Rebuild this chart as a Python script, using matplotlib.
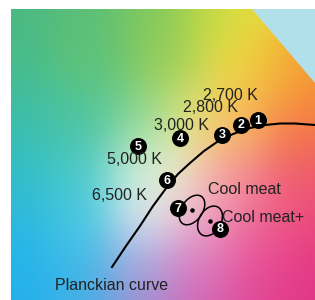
import numpy as np
import matplotlib
matplotlib.use("Agg")
import matplotlib.pyplot as plt
from matplotlib.patches import Ellipse

plt.rcParams["font.family"] = ["Liberation Sans", "DejaVu Sans"]

# background colour anchors (x, y in pixel space of the picture, rgb 0-255)
bg_x = [11, 80, 150, 210, 250,
        11, 90, 170, 230, 270, 310,
        11, 80, 140, 195, 240, 300,
        11, 80, 140, 170, 230, 300,
        11, 80, 145, 200, 260, 310,
        11, 80, 140, 200, 260, 310,
        11, 80, 140, 200, 260, 310]
bg_y = [9] * 5 + [60] * 6 + [120] * 6 + [170] * 6 + [210] * 6 + [255] * 6 + [300] * 6
bg_rgb = [
    (75, 185, 130), (90, 190, 120), (125, 200, 95), (180, 215, 70), (235, 228, 60),
    (70, 188, 140), (95, 195, 120), (150, 205, 90), (240, 225, 70), (245, 185, 55), (245, 150, 50),
    (60, 190, 170), (75, 195, 160), (130, 210, 140), (235, 235, 120), (250, 180, 90), (245, 125, 65),
    (50, 190, 195), (70, 200, 195), (190, 235, 220), (250, 245, 200), (245, 150, 150), (240, 95, 100),
    (45, 185, 220), (70, 200, 225), (235, 245, 250), (240, 170, 200), (240, 110, 150), (235, 75, 120),
    (35, 180, 235), (60, 190, 235), (170, 175, 225), (225, 130, 195), (235, 85, 150), (230, 55, 130),
    (35, 175, 235), (60, 175, 230), (160, 140, 210), (210, 100, 180), (225, 70, 150), (225, 50, 135),
]

# Planckian locus
curve_x = [112, 126, 140, 153, 167, 178, 190, 204, 217, 233, 250, 265, 280, 295, 315]
curve_y = [267, 246, 226, 206, 187, 174, 163, 151, 142, 134, 128, 125, 123.5, 123.5, 125]

# numbered sample points
pt_num = ["1", "2", "3", "4", "5", "6", "7", "8"]
pt_x = [258, 241, 222, 180, 138, 167, 178, 220]
pt_y = [120, 125, 135, 138, 146, 180, 208, 229]

# colour temperature labels
labels = ["2,700 K", "2,800 K", "3,000 K", "5,000 K", "6,500 K", "Cool meat", "Cool meat+", "Planckian curve"]
lab_x = [203, 183, 154, 107, 92, 208, 222, 55]
lab_y = [95, 108, 126, 160, 195, 190, 218, 285]

# "cool meat" regions
ell_x = [192, 210]
ell_y = [210, 221]
ell_w = [33, 32]
ell_h = [21, 22]
ell_ang = [-55, -60]


def _background(w, h):
    gx, gy = np.meshgrid(np.arange(w) + 11, np.arange(h) + 9)
    cols = np.array(bg_rgb, dtype=float) / 255.0
    num = np.zeros((h, w, 3))
    den = np.zeros((h, w))
    sig = 30.0
    for x0, y0, c in zip(bg_x, bg_y, cols):
        wgt = np.exp(-((gx - x0) ** 2 + (gy - y0) ** 2) / (2 * sig ** 2))
        num += wgt[..., None] * c
        den += wgt
    return np.clip(num / den[..., None], 0, 1)


fig = plt.figure(figsize=(3.15, 3.0), dpi=100)
ax = fig.add_axes([0, 0, 1, 1])
ax.set_xlim(0, 315)
ax.set_ylim(300, 0)
ax.axis("off")

ax.imshow(_background(304, 291), extent=[11, 315, 300, 9], interpolation="bilinear", zorder=0)
ax.fill([252, 315, 315], [9, 9, 83], color="#b2e0ea", lw=0, zorder=1)

ax.plot(curve_x, curve_y, color="black", lw=1.5, zorder=2)

for cx, cy, w, h, a in zip(ell_x, ell_y, ell_w, ell_h, ell_ang):
    ax.add_patch(Ellipse((cx, cy), w, h, angle=a, fill=False, ec="black", lw=1.1, zorder=3))
ax.scatter(ell_x, ell_y, s=5, color="black", zorder=3)

ax.scatter(pt_x, pt_y, s=125, color="black", zorder=4)
for n, x, y in zip(pt_num, pt_x, pt_y):
    ax.text(x, y + 0.5, n, color="white", fontsize=9, fontweight="bold", ha="center", va="center", zorder=5)

for t, x, y in zip(labels, lab_x, lab_y):
    ax.text(x, y, t, color="#222222", fontsize=11.5, ha="left", va="center", zorder=5)

fig.savefig("out.png", dpi=100, facecolor="white")
